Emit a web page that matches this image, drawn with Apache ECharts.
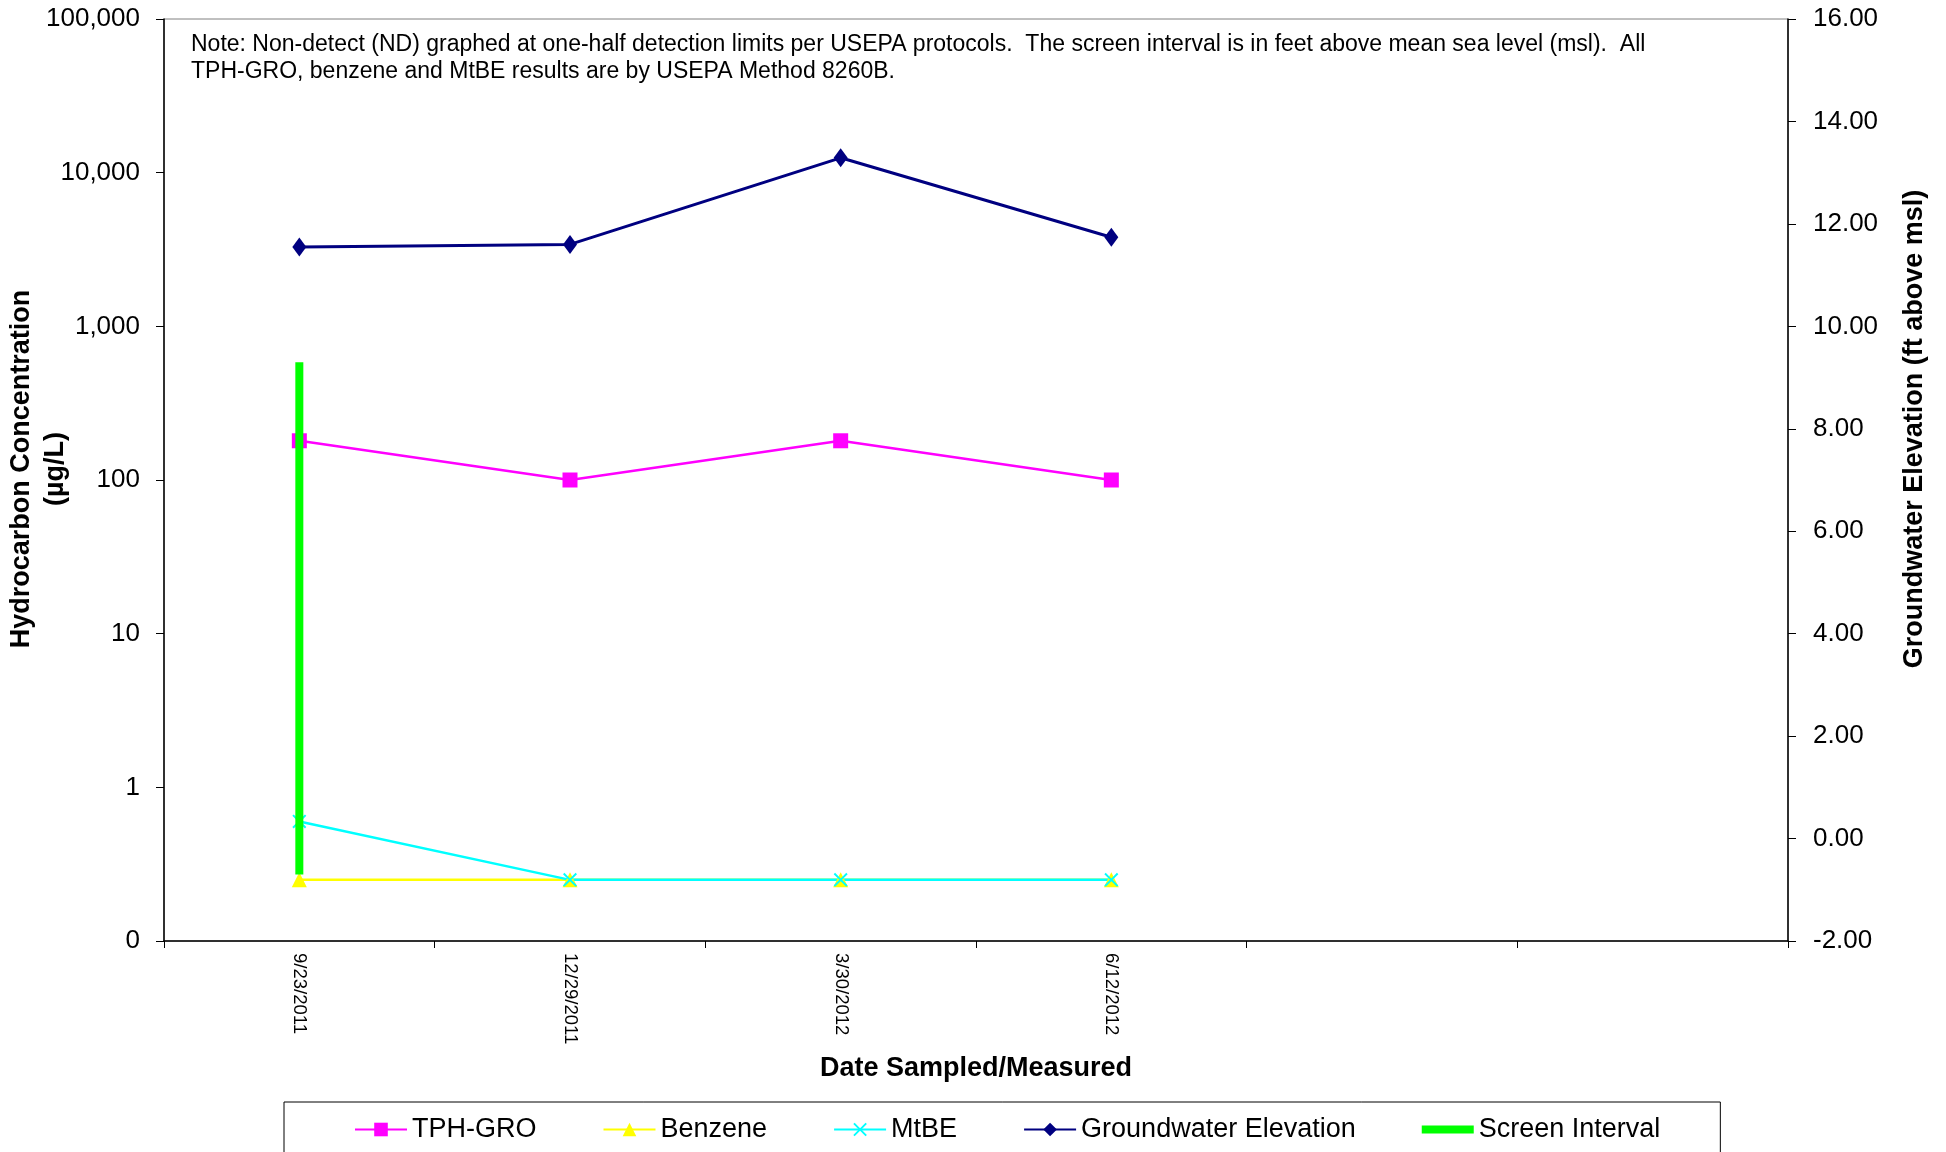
<!DOCTYPE html>
<html>
<head>
<meta charset="utf-8">
<script src="https://cdn.jsdelivr.net/npm/echarts@6/dist/echarts.min.js"></script>
<style>
  html, body { margin: 0; padding: 0; background: #fff; }
  #chart { width: 1946px; height: 1152px; }
</style>
</head>
<body>
<div id="chart"></div>
<script>
// ---------------- data ----------------
var dates = ['9/23/2011', '12/29/2011', '3/30/2012', '6/12/2012', '', ''];
var tphGro = [180, 100, 180, 100];        // µg/L
var benzene = [0.25, 0.25, 0.25, 0.25];   // µg/L (ND, half detection limit)
var mtbe = [0.6, 0.25, 0.25, 0.25];       // µg/L
var gwElev = [11.55, 11.60, 13.29, 11.74]; // ft above msl
var screenInterval = [9.3, -0.7];          // top / bottom of screen, ft msl
var concTicks = [0.1, 1, 10, 100, 1000, 10000, 100000];
var elevTicks = [-2, 16, 2];               // min, max, interval

var font = "'Liberation Sans', Arial, sans-serif";
var noteText = 'Note: Non-detect (ND) graphed at one-half detection limits per USEPA protocols.  The screen interval is in feet above mean sea level (msl).  All\n' +
    'TPH-GRO, benzene and MtBE results are by USEPA Method 8260B.';

var chartDom = document.getElementById('chart');
var myChart = echarts.init(chartDom);

// X 形符号（填充多边形）
var xMark = 'path://M0,1L1,0L5,4L9,0L10,1L6,5L10,9L9,10L5,6L1,10L0,9L4,5Z';

var option = {
    animation: false,
    backgroundColor: '#fff',
    textStyle: { fontFamily: font },
    grid: {
        left: 164,
        right: 158,
        top: 19,
        bottom: 211,
        show: true,
        borderColor: '#808080',
        borderWidth: 1
    },
    legend: {
        left: 284,
        top: 1102,
        padding: [14, 60, 40, 70],
        itemGap: 66,
        itemWidth: 52,
        itemHeight: 17,
        borderColor: '#000',
        borderWidth: 1,
        textStyle: { fontSize: 27, color: '#000', fontFamily: font },
        data: [
            'TPH-GRO', 'Benzene', 'MtBE', 'Groundwater Elevation',
            { name: 'Screen Interval', icon: 'path://M0,0H58V9H0Z' }
        ]
    },
    graphic: [{
        type: 'text',
        left: 191,
        top: 31,
        style: {
            text: noteText,
            font: '23px ' + font,
            fill: '#000',
            lineHeight: 27
        }
    }, {
        type: 'text',
        x: 39,
        y: 469,
        rotation: Math.PI / 2,
        style: {
            text: 'Hydrocarbon Concentration\n(µg/L)',
            font: 'bold 27px ' + font,
            fill: '#000',
            align: 'center',
            verticalAlign: 'middle',
            lineHeight: 34
        }
    }, {
        type: 'text',
        x: 1915,
        y: 429,
        rotation: Math.PI / 2,
        style: {
            text: 'Groundwater Elevation (ft above msl)',
            font: 'bold 27px ' + font,
            fill: '#000',
            align: 'center',
            verticalAlign: 'middle'
        }
    }],
    xAxis: {
        type: 'category',
        data: dates,
        boundaryGap: true,
        name: 'Date Sampled/Measured',
        nameLocation: 'middle',
        nameGap: 114,
        nameTextStyle: { fontSize: 27, fontWeight: 'bold', color: '#000', fontFamily: font },
        axisLine: { onZero: false, lineStyle: { color: '#000', width: 1.5 } },
        axisTick: { show: true, interval: 0, length: 7, lineStyle: { color: '#000' } },
        axisLabel: {
            interval: 0,
            rotate: -90,
            margin: 12,
            fontSize: 18.5,
            color: '#000',
            fontFamily: font
        },
        splitLine: { show: false }
    },
    yAxis: [{
        type: 'log',
        logBase: 10,
        min: concTicks[0],
        max: concTicks[concTicks.length - 1],
        axisLine: { show: true, lineStyle: { color: '#000', width: 1.5 } },
        axisTick: { show: true, length: 8, lineStyle: { color: '#000' } },
        axisLabel: {
            margin: 24,
            fontSize: 26,
            color: '#000',
            fontFamily: font,
            formatter: function (v) {
                if (v < 1) return '0';
                return Math.round(v).toLocaleString('en-US');
            }
        },
        splitLine: { show: false }
    }, {
        type: 'value',
        min: elevTicks[0],
        max: elevTicks[1],
        interval: elevTicks[2],
        position: 'right',
        axisLine: { show: true, onZero: false, lineStyle: { color: '#000', width: 1.5 } },
        axisTick: { show: true, length: 8, lineStyle: { color: '#000' } },
        axisLabel: {
            margin: 25,
            fontSize: 26,
            color: '#000',
            fontFamily: font,
            formatter: function (v) { return v.toFixed(2); }
        },
        splitLine: { show: false }
    }],
    series: [{
        name: 'TPH-GRO',
        type: 'line',
        yAxisIndex: 0,
        data: tphGro,
        symbol: 'rect',
        symbolSize: 15,
        itemStyle: { color: '#FF00FF' },
        lineStyle: { color: '#FF00FF', width: 2.5 },
        z: 2
    }, {
        name: 'Benzene',
        type: 'line',
        yAxisIndex: 0,
        data: benzene,
        symbol: 'triangle',
        symbolSize: 15,
        itemStyle: { color: '#FFFF00' },
        lineStyle: { color: '#FFFF00', width: 2.5 },
        z: 2
    }, {
        name: 'MtBE',
        type: 'line',
        yAxisIndex: 0,
        data: mtbe,
        symbol: xMark,
        symbolSize: 14,
        itemStyle: { color: '#00FFFF' },
        lineStyle: { color: '#00FFFF', width: 2.5 },
        z: 2
    }, {
        name: 'Groundwater Elevation',
        type: 'line',
        yAxisIndex: 1,
        data: gwElev,
        symbol: 'diamond',
        symbolSize: [14, 19],
        itemStyle: { color: '#000080' },
        lineStyle: { color: '#000080', width: 3 },
        z: 3
    }, {
        name: 'Screen Interval',
        type: 'line',
        yAxisIndex: 1,
        data: [[dates[0], screenInterval[0]], [dates[0], screenInterval[1]]],
        symbol: 'none',
        itemStyle: { color: '#00FF00' },
        lineStyle: { color: '#00FF00', width: 8, cap: 'butt' },
        z: 4
    }]
};

myChart.setOption(option);
</script>
</body>
</html>
